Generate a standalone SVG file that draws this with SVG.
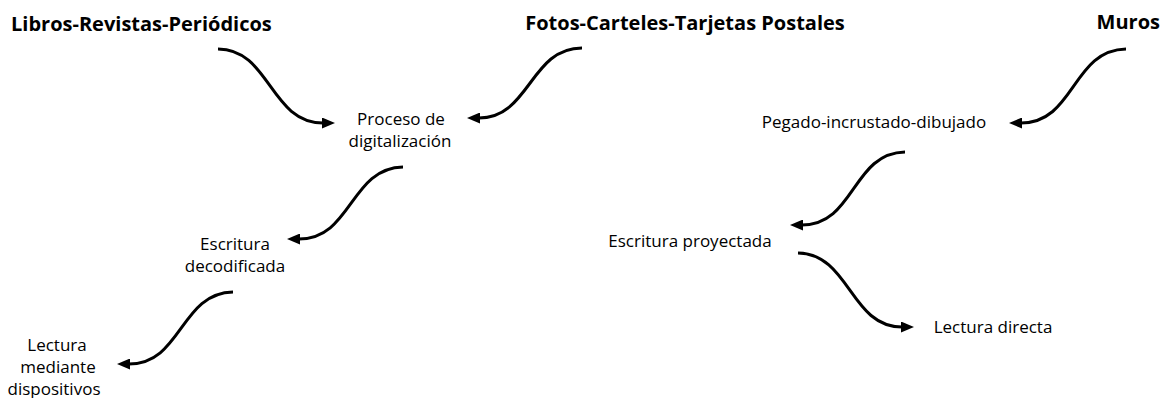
<svg xmlns="http://www.w3.org/2000/svg" width="1163" height="398" viewBox="0 0 1163 398">
<defs>
<style>
.t{font-family:"Open Sans","Noto Sans","Liberation Sans",sans-serif;font-size:17px;fill:#000;}
.b{font-family:"Open Sans","Noto Sans","Liberation Sans",sans-serif;font-size:20px;font-weight:bold;fill:#000;}
.c{text-anchor:middle;}
.e{fill:none;stroke:#000;stroke-width:3;marker-end:url(#ah);}
</style>
<marker id="ah" markerUnits="userSpaceOnUse" markerWidth="13" markerHeight="11" refX="1" refY="5.5" orient="auto">
<path d="M0,0 L13,5.5 L0,11 z" fill="#000"/>
</marker>
</defs>
<rect width="1163" height="398" fill="#fff"/>
<g id="connectors">
<path class="e" d="M218,49 C270,49 270,123 323,123"/>
<path class="e" d="M582,48 C530,48 530,118 479,118"/>
<path class="e" d="M1126,49 C1072,50 1075,123 1021,123"/>
<path class="e" d="M403,167 C350,168 352,239 299,239"/>
<path class="e" d="M233,292 C180,293 182,364 129,364"/>
<path class="e" d="M905,152 C852,153 855,225 802,225"/>
<path class="e" d="M798,253 C850,254 850,327 902,327"/>
</g>
<g id="libros"><text class="b" x="11" y="31">Libros-Revistas-Periódicos</text></g>
<g id="fotos"><text class="b c" x="685" y="30">Fotos-Carteles-Tarjetas Postales</text></g>
<g id="muros"><text class="b" x="1160" y="29" text-anchor="end">Muros</text></g>
<g id="proceso"><text class="t c" x="401" y="125">Proceso de</text><text class="t c" x="400" y="147">digitalización</text></g>
<g id="pegado"><text class="t c" x="874" y="128">Pegado-incrustado-dibujado</text></g>
<g id="escritura-decodificada"><text class="t c" x="235" y="250">Escritura</text><text class="t c" x="235" y="272">decodificada</text></g>
<g id="lectura-mediante"><text class="t c" x="57" y="351">Lectura</text><text class="t c" x="58" y="373">mediante</text><text class="t c" x="54" y="395">dispositivos</text></g>
<g id="escritura-proyectada"><text class="t c" x="690" y="247">Escritura proyectada</text></g>
<g id="lectura-directa"><text class="t c" x="993" y="333">Lectura directa</text></g>
</svg>
